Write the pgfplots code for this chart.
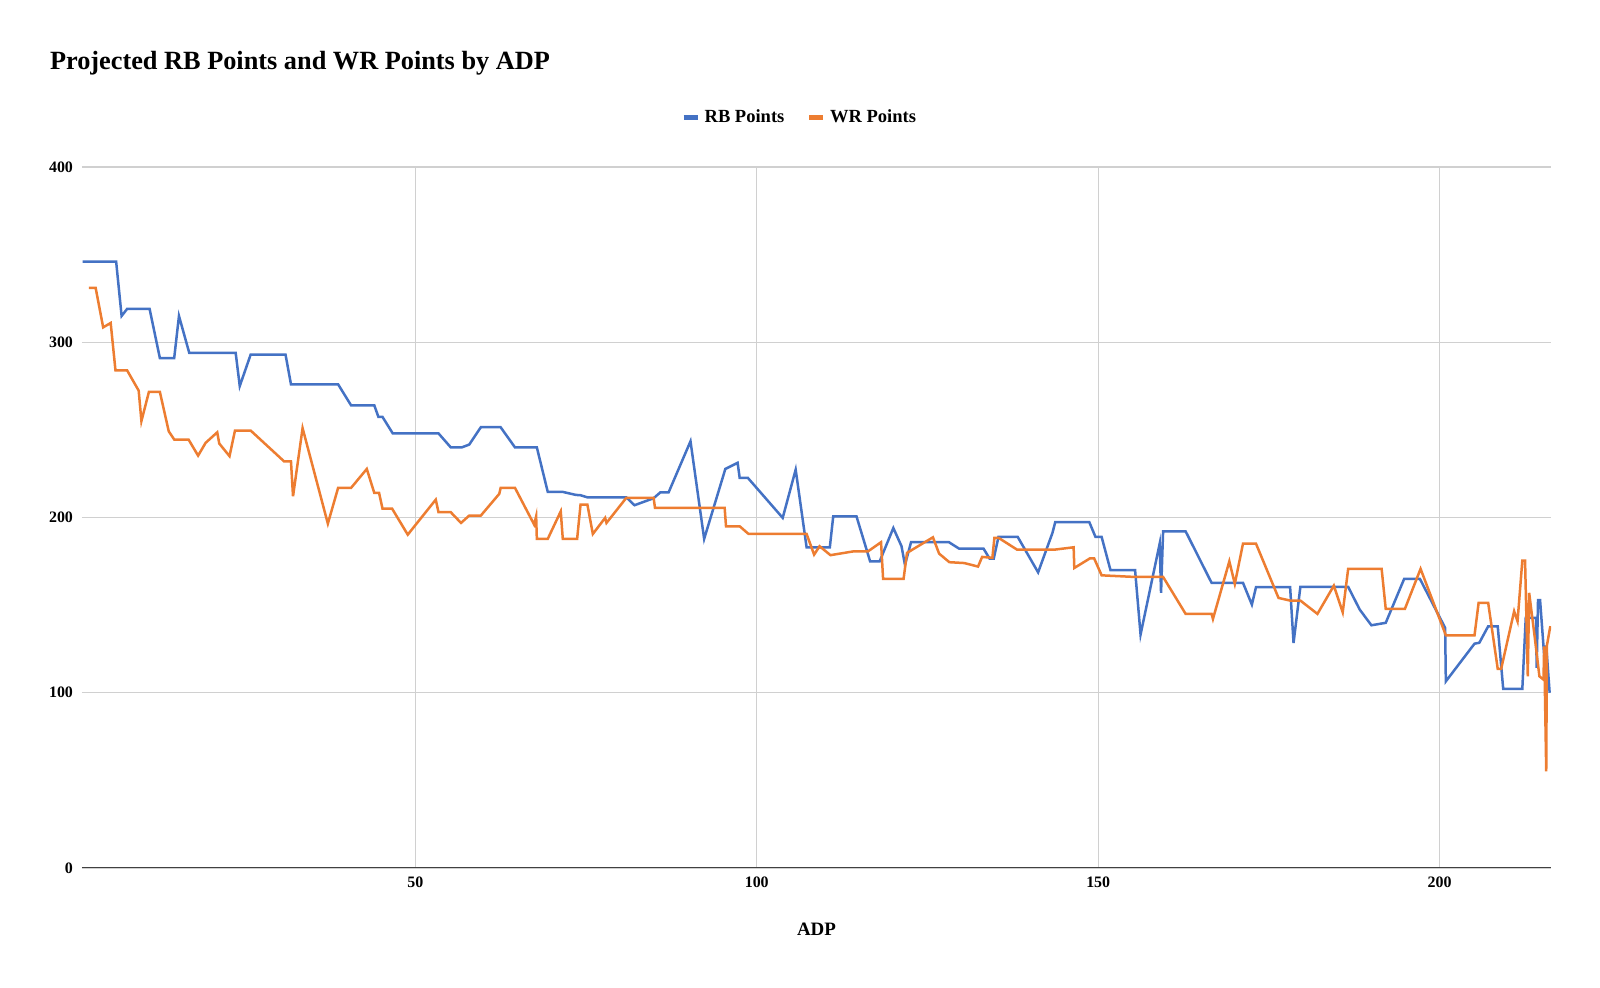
\documentclass[border=0pt]{standalone}
\usepackage{pgfplots}
\pgfplotsset{compat=1.18}
\usepackage{fontspec}
\setmainfont{Liberation Serif}
\definecolor{rbblue}{HTML}{4472C4}
\definecolor{wrorange}{HTML}{ED7D31}
\definecolor{gridgray}{HTML}{D0D0D0}
\begin{document}
\begin{tikzpicture}
\useasboundingbox (0,0) rectangle (800bp,494bp);
\node[anchor=base west,inner sep=0pt,font=\bfseries\fontsize{13.2}{15}\selectfont] at (24.8bp,459bp) {Projected RB Points and WR Points by ADP};
\begin{axis}[
  at={(41bp,60bp)}, anchor=south west,
  scale only axis, width=734.5bp, height=350.5bp,
  xmin=1.2, xmax=216.3, ymin=0, ymax=400,
  xtick={50,100,150,200}, ytick={0,100,200,300,400},
  grid=major, grid style={gridgray, line width=0.6bp},
  axis line style={draw=none},
  tick style={draw=none},
  /pgf/number format/assume math mode=true,
  ticklabel style={font=\bfseries\fontsize{8}{9}\selectfont},
  yticklabel style={xshift=-1bp},
  xticklabel style={yshift=-1bp},
  xlabel={ADP},
  xlabel style={font=\bfseries\fontsize{9.5}{11}\selectfont, yshift=-11bp},
  legend columns=2,
  legend style={at={(0.5,1)}, anchor=center, xshift=-8bp, yshift=24.8bp, draw=none, fill=none,
    font=\bfseries\fontsize{9.3}{10}\selectfont,
    /tikz/every even column/.append style={column sep=9bp}},
  legend image code/.code={\path[draw=none] (0bp,0bp) -- (8.5bp,0bp);\draw[line width=2.6bp] (0bp,0bp) -- (7bp,0bp);},
]
\addplot[rbblue, line width=1.25bp] coordinates {
(1.3,346) (6.2,346) (7.0,315) (7.8,319) (11.1,319) (12.6,291) (14.7,291) (15.4,315) (16.9,294) (23.7,294) (24.3,275) (25.9,293) (31.0,293) (31.8,276) (38.7,276) (40.6,264) (44.0,264) (44.6,257.4) (45.2,257.4) (46.7,248) (53.4,248) (55.2,240) (56.8,240) (57.9,241.6) (59.6,251.5) (62.5,251.5) (64.6,240) (67.8,240) (69.4,214.6) (71.6,214.6) (73.5,212.9) (74.2,212.7) (75.2,211.5) (80.9,211.5) (82.1,207) (84.9,211) (85.9,214.4) (87.1,214.4) (90.3,243.5) (92.3,187.8) (95.4,227.7) (97.2,231.2) (97.5,222.6) (98.7,222.6) (103.8,199.8) (105.7,227.3) (107.3,183) (110.7,183) (111.2,200.7) (114.6,200.7) (116.6,175) (118,175) (120.0,194) (121.2,183.6) (121.7,173) (122.6,186) (128.1,186) (129.6,182.3) (133.2,182.3) (134.1,176.5) (134.7,176.5) (135.4,189) (138.2,189) (141.2,168.7) (143.3,191.2) (143.7,197.3) (148.7,197.3) (149.6,188.9) (150.5,188.9) (151.8,169.9) (155.4,169.9) (156.2,133.2) (159.0,185.1) (159.2,157) (159.5,192.1) (162.8,192.1) (166.6,162.7) (171.2,162.7) (172.5,150.3) (173.1,160.2) (178.1,160.2) (178.6,128.4) (179.6,160.4) (186.6,160.4) (188.3,147.4) (190.0,138.5) (192.1,139.9) (194.8,165) (197.1,165) (200.8,137) (200.9,106.5) (205.1,128) (205.8,128.5) (207.1,137.9) (208.5,137.9) (209.3,102.2) (212.1,102.2) (212.6,142.7) (214.1,142.7) (214.2,114.2) (214.4,152.8) (214.7,152.8) (215.4,116) (215.6,127) (216.1,100)
};
\addlegendentry{RB Points}
\addplot[wrorange, line width=1.25bp] coordinates {
(2.2,331) (3.2,331) (4.3,308.5) (5.4,311) (6.1,284) (7.8,284) (9.5,272.4) (9.9,255) (11.0,271.7) (12.6,271.7) (13.9,249.2) (14.7,244.5) (16.8,244.5) (18.2,235.3) (19.3,242.6) (21.0,248.6) (21.3,242.2) (22.8,235) (23.6,249.6) (25.9,249.6) (30.8,232) (31.8,232) (32.1,212.1) (33.5,251) (37.2,196.5) (38.7,216.9) (40.6,216.9) (42.9,227.7) (44.0,214) (44.7,214) (45.2,205.1) (46.6,205.1) (48.9,190.2) (53.0,210.2) (53.4,203) (55.2,203) (56.7,196.9) (57.9,201.1) (59.6,201.1) (62.3,213.5) (62.5,216.9) (64.6,216.9) (67.4,196) (67.7,200.7) (67.8,187.8) (69.4,187.8) (71.3,203.5) (71.6,187.8) (73.7,187.8) (74.2,207.4) (75.2,207.4) (76.0,190.6) (77.8,199.8) (78.0,196.9) (80.9,211.2) (84.9,211.2) (85.1,205.5) (95.3,205.5) (95.5,195) (97.5,195) (98.8,190.6) (107.3,190.6) (108.4,178.8) (109.2,183.6) (110.8,178.5) (114.2,180.7) (116.3,180.7) (118.2,185.9) (118.5,165) (121.5,165) (122.0,179.8) (125.8,188.7) (126.7,179.4) (128.2,174.5) (130.4,174) (132.4,172) (133.0,177.5) (134.5,177) (134.8,188.4) (135.4,188.4) (138.1,181.7) (143.7,181.7) (146.4,183) (146.5,171.2) (148.8,176.7) (149.4,176.7) (150.5,167) (155.2,166.1) (159.5,166.1) (162.8,145) (166.6,145) (166.8,142.1) (169.2,175) (170.0,162.1) (171.2,185.1) (173.1,185.1) (176.4,154.1) (178.1,152.6) (179.6,152.6) (182.1,145) (184.5,161.1) (185.8,145.9) (186.6,170.7) (191.5,170.7) (192.1,147.8) (194.9,147.8) (197.2,170.7) (200.9,132.8) (205.1,132.8) (205.7,151.3) (207.1,151.3) (208.5,113.6) (209.0,113.6) (210.9,146.5) (211.4,140.8) (212.1,175.4) (212.5,175.4) (212.9,109.4) (213.1,157) (213.9,132.2) (214.6,109.4) (215.2,107.5) (215.3,126.5) (215.6,55.2) (215.7,127) (216.2,138)
};
\addlegendentry{WR Points}
\draw[black!75, line width=0.8bp] (rel axis cs:0,0) -- (rel axis cs:1,0);
\end{axis}
\end{tikzpicture}
\end{document}
